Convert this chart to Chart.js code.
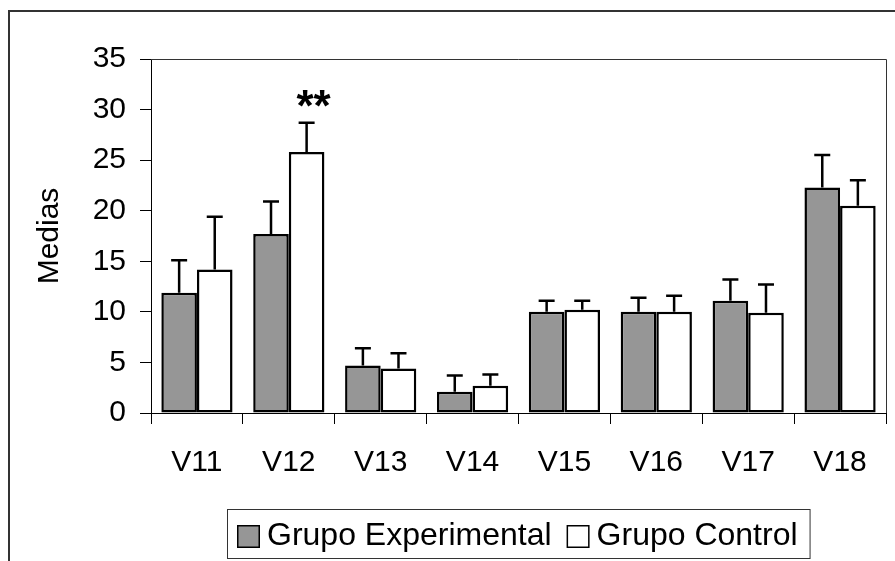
<!DOCTYPE html>
<html lang="es">
<head>
<meta charset="UTF-8">
<title>Medias por variable</title>
<style>
    html, body { margin: 0; padding: 0; background: #fff; }
    #contenedor { width: 895px; height: 561px; }
</style>
</head>
<body>
<div id="contenedor"><canvas id="grafico" width="895" height="561"></canvas></div>

<script src="https://cdn.jsdelivr.net/npm/chart.js"></script>
<script>
    // Datos
    const categorias = ['V11', 'V12', 'V13', 'V14', 'V15', 'V16', 'V17', 'V18'];
    const mediasExperimental = [11.9, 17.7, 4.7, 2.1, 10.0, 10.0, 11.1, 22.3];
    const errorExperimental = [3.2, 3.2, 1.7, 1.6, 1.1, 1.4, 2.1, 3.2];
    const mediasControl = [14.2, 25.8, 4.4, 2.7, 10.2, 10.0, 9.9, 20.5];
    const errorControl = [5.2, 2.9, 1.5, 1.1, 0.9, 1.6, 2.8, 2.5];
    const significacionControl = ['', '**', '', '', '', '', '', ''];
    const ticksY = [0, 5, 10, 15, 20, 25, 30, 35];

    const fuente = "'Liberation Sans', Arial, sans-serif";

    // Barras de error (solo hacia arriba, con tope)
    const barrasError = {
        id: 'barrasError',
        afterDatasetsDraw(chart) {
            const ctx = chart.ctx;
            const y = chart.scales.y;
            ctx.save();
            ctx.strokeStyle = '#000';
            ctx.lineWidth = 2.5;
            chart.data.datasets.forEach((ds, i) => {
                const meta = chart.getDatasetMeta(i);
                meta.data.forEach((barra, j) => {
                    const arriba = y.getPixelForValue(ds.data[j] + ds.errores[j]);
                    ctx.beginPath();
                    ctx.moveTo(barra.x, barra.y);
                    ctx.lineTo(barra.x, arriba);
                    ctx.moveTo(barra.x - 8, arriba);
                    ctx.lineTo(barra.x + 8, arriba);
                    ctx.stroke();
                    const marca = ds.marcas ? ds.marcas[j] : '';
                    if (marca) {
                        ctx.fillStyle = '#000';
                        ctx.font = 'bold 44px ' + fuente;
                        ctx.textAlign = 'center';
                        ctx.textBaseline = 'alphabetic';
                        ctx.fillText(marca, barra.x + 7, arriba - 2);
                    }
                });
            });
            ctx.restore();
        }
    };

    // Marco exterior, borde del área de trazado y leyenda con recuadro
    const decoracion = {
        id: 'decoracion',
        beforeDraw(chart) {
            const ctx = chart.ctx;
            ctx.save();
            ctx.strokeStyle = '#333';
            ctx.lineWidth = 2;
            ctx.beginPath();
            ctx.moveTo(9, chart.height);
            ctx.lineTo(9, 11);
            ctx.lineTo(chart.width, 11);
            ctx.stroke();
            ctx.restore();
        },
        afterDraw(chart) {
            const ctx = chart.ctx;
            const a = chart.chartArea;
            ctx.save();
            ctx.strokeStyle = '#333';
            ctx.lineWidth = 1;
            ctx.beginPath();
            ctx.moveTo(a.left, a.top + 0.5);
            ctx.lineTo(a.right + 0.5, a.top + 0.5);
            ctx.lineTo(a.right + 0.5, a.bottom);
            ctx.stroke();

            // leyenda
            ctx.font = '32px ' + fuente;
            const cuadro = 23, hueco = 7, sep = 15, margenIzq = 10, margenDer = 12;
            const items = chart.data.datasets.map(ds => ({
                texto: ds.label, color: ds.backgroundColor, ancho: ctx.measureText(ds.label).width
            }));
            let total = margenIzq + margenDer;
            items.forEach((it, k) => { total += cuadro + hueco + it.ancho + (k > 0 ? sep : 0); });
            const alto = 49;
            const x0 = Math.round((a.left + a.right) / 2 - total / 2);
            const y0 = chart.height - 52;
            ctx.strokeStyle = '#333';
            ctx.lineWidth = 1;
            ctx.strokeRect(x0 + 0.5, y0 + 0.5, total, alto);
            let x = x0 + margenIzq;
            const yc = y0 + alto / 2 + 3;
            items.forEach((it, k) => {
                if (k > 0) x += sep;
                ctx.fillStyle = it.color;
                ctx.fillRect(x, yc - cuadro / 2, cuadro, cuadro);
                ctx.strokeStyle = '#000';
                ctx.lineWidth = 1.5;
                ctx.strokeRect(x + 0.75, yc - cuadro / 2 + 0.75, cuadro - 1.5, cuadro - 1.5);
                x += cuadro + hueco;
                ctx.fillStyle = '#000';
                ctx.textAlign = 'left';
                ctx.textBaseline = 'middle';
                ctx.fillText(it.texto, x, yc);
                x += it.ancho;
            });
            ctx.restore();
        }
    };

    const ctxGrafico = document.getElementById('grafico').getContext('2d');
    const grafico = new Chart(ctxGrafico, {
        type: 'bar',
        data: {
            labels: categorias,
            datasets: [
                {
                    label: 'Grupo Experimental',
                    data: mediasExperimental,
                    errores: errorExperimental,
                    backgroundColor: '#969696',
                    borderColor: '#000',
                    borderWidth: 2.5,
                    borderSkipped: false
                },
                {
                    label: 'Grupo Control',
                    data: mediasControl,
                    errores: errorControl,
                    marcas: significacionControl,
                    backgroundColor: '#ffffff',
                    borderColor: '#000',
                    borderWidth: 2.5,
                    borderSkipped: false
                }
            ]
        },
        options: {
            responsive: false,
            animation: false,
            maintainAspectRatio: false,
            categoryPercentage: 0.775,
            barPercentage: 1,
            layout: { padding: { left: 0, top: 59, right: 9, bottom: 0 } },
            plugins: {
                legend: { display: false },
                tooltip: { enabled: false }
            },
            scales: {
                x: {
                    grid: { drawOnChartArea: false, offset: true, tickLength: 11, color: '#000' },
                    border: { display: true, color: '#000' },
                    ticks: { color: '#000', padding: 21, font: { family: fuente, size: 30 } },
                    afterFit: scale => { scale.height = 148; }
                },
                y: {
                    min: 0,
                    max: 35,
                    afterBuildTicks: scale => { scale.ticks = ticksY.map(v => ({ value: v })); },
                    grid: { drawOnChartArea: false, tickLength: 11, color: '#000' },
                    border: { display: true, color: '#000' },
                    ticks: { color: '#000', padding: 14, font: { family: fuente, size: 30 } },
                    title: {
                        display: true,
                        text: 'Medias',
                        color: '#000',
                        font: { family: fuente, size: 30 },
                        padding: { top: 32, bottom: 0 }
                    },
                    afterFit: scale => { scale.width = 151; }
                }
            }
        },
        plugins: [barrasError, decoracion]
    });
</script>
</body>
</html>
